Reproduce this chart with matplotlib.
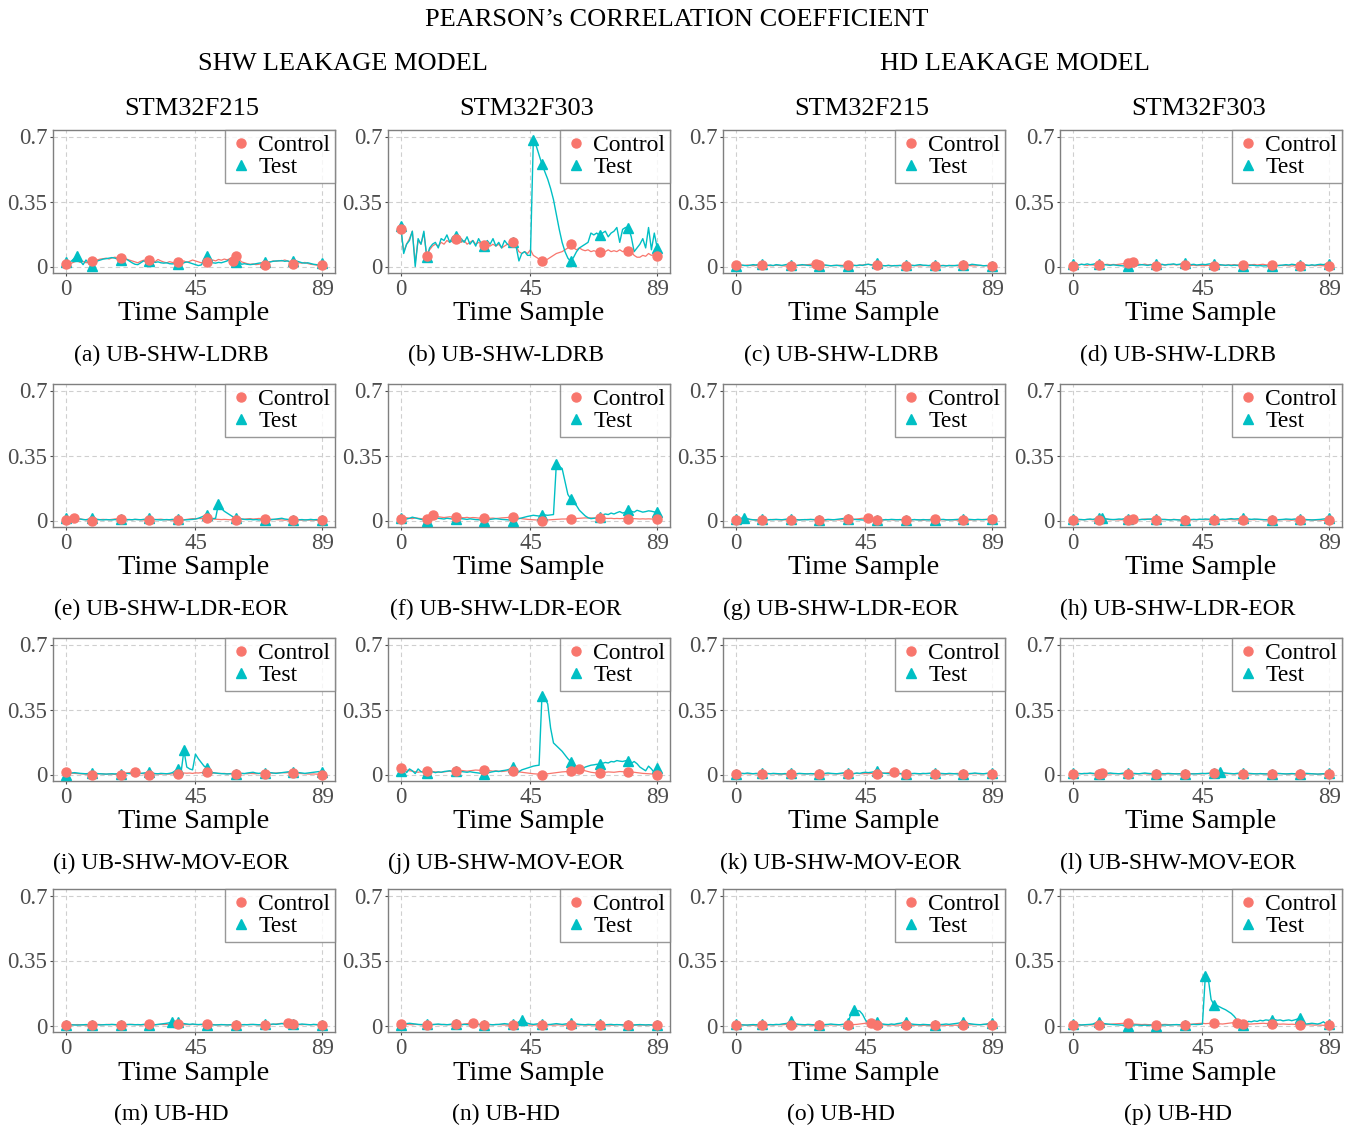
import matplotlib
matplotlib.use("Agg")
import matplotlib.pyplot as plt
import numpy as np

plt.rcParams['font.family'] = ['Liberation Serif', 'DejaVu Serif']

# correlation traces, 90 time samples each
a_ctl = [0.016,0.020,0.018,0.025,0.030,0.022,0.028,0.020,0.024,0.027,
         0.032,0.036,0.040,0.042,0.045,0.040,0.046,0.050,0.047,0.045,
         0.042,0.040,0.035,0.030,0.025,0.020,0.028,0.034,0.030,0.036,
         0.030,0.026,0.038,0.030,0.024,0.020,0.026,0.022,0.018,0.022,
         0.025,0.030,0.022,0.028,0.035,0.030,0.025,0.020,0.026,0.022,
         0.028,0.035,0.030,0.038,0.034,0.040,0.036,0.042,0.027,0.058,
         0.040,0.025,0.020,0.015,0.012,0.014,0.010,0.012,0.015,0.009,
         0.020,0.025,0.030,0.028,0.032,0.030,0.035,0.030,0.020,0.011,
         0.015,0.020,0.018,0.022,0.016,0.012,0.010,0.008,0.006,0.009]
a_tst = [0.024,0.020,0.030,0.045,0.058,0.030,0.010,0.035,0.015,0.004,
         0.020,0.030,0.035,0.040,0.042,0.045,0.048,0.045,0.040,0.036,
         0.038,0.040,0.030,0.020,0.012,0.010,0.020,0.030,0.025,0.030,
         0.028,0.022,0.025,0.020,0.018,0.020,0.015,0.014,0.016,0.013,
         0.015,0.020,0.025,0.020,0.015,0.010,0.005,0.008,0.030,0.058,
         0.030,0.020,0.018,0.022,0.020,0.025,0.030,0.040,0.045,0.024,
         0.030,0.012,0.015,0.012,0.010,0.012,0.015,0.018,0.020,0.024,
         0.022,0.025,0.028,0.030,0.030,0.032,0.028,0.030,0.025,0.027,
         0.030,0.025,0.020,0.018,0.020,0.016,0.012,0.010,0.008,0.018]
b_ctl = [0.200,0.080,0.120,0.150,0.190,0.020,0.140,0.120,0.180,0.058,
         0.090,0.110,0.120,0.110,0.130,0.120,0.140,0.130,0.150,0.150,
         0.140,0.130,0.140,0.120,0.130,0.140,0.120,0.130,0.120,0.114,
         0.120,0.110,0.120,0.110,0.120,0.100,0.110,0.120,0.120,0.130,
         0.110,0.080,0.070,0.080,0.070,0.090,0.060,0.050,0.040,0.027,
         0.030,0.040,0.050,0.060,0.070,0.075,0.080,0.090,0.100,0.120,
         0.100,0.090,0.100,0.090,0.085,0.090,0.080,0.085,0.080,0.080,
         0.085,0.080,0.090,0.080,0.085,0.080,0.090,0.080,0.085,0.085,
         0.080,0.060,0.050,0.050,0.060,0.055,0.070,0.060,0.065,0.055]
b_tst = [0.217,0.070,0.120,0.140,0.190,0.000,0.150,0.120,0.190,0.050,
         0.100,0.120,0.130,0.100,0.150,0.140,0.170,0.130,0.160,0.165,
         0.140,0.150,0.130,0.160,0.120,0.140,0.110,0.150,0.120,0.110,
         0.140,0.120,0.150,0.110,0.130,0.100,0.140,0.120,0.110,0.130,
         0.110,0.030,0.070,0.080,0.060,0.060,0.680,0.650,0.600,0.550,
         0.510,0.470,0.420,0.360,0.280,0.200,0.130,0.080,0.045,0.027,
         0.050,0.080,0.100,0.110,0.120,0.130,0.180,0.170,0.180,0.167,
         0.180,0.190,0.160,0.180,0.190,0.210,0.130,0.200,0.210,0.210,
         0.160,0.080,0.100,0.120,0.150,0.100,0.210,0.090,0.180,0.100]
c_ctl = [0.010,0.008,0.006,0.005,0.008,0.006,0.004,0.006,0.005,0.007,
         0.008,0.006,0.004,0.005,0.007,0.006,0.004,0.003,0.002,0.003,
         0.005,0.006,0.008,0.007,0.009,0.010,0.012,0.013,0.015,0.010,
         0.008,0.006,0.005,0.004,0.006,0.005,0.007,0.006,0.008,0.009,
         0.007,0.006,0.005,0.007,0.008,0.010,0.012,0.010,0.009,0.008,
         0.006,0.005,0.004,0.006,0.005,0.004,0.006,0.005,0.004,0.005,
         0.006,0.007,0.005,0.004,0.003,0.005,0.006,0.004,0.003,0.002,
         0.004,0.005,0.006,0.005,0.004,0.006,0.005,0.004,0.005,0.006,
         0.007,0.005,0.004,0.003,0.005,0.006,0.004,0.005,0.006,0.005]
c_tst = [0.002,0.005,0.008,0.006,0.004,0.007,0.010,0.008,0.012,0.015,
         0.010,0.006,0.008,0.005,0.010,0.008,0.006,0.009,0.012,0.010,
         0.008,0.005,0.007,0.010,0.008,0.006,0.005,0.004,0.006,0.003,
         0.005,0.008,0.006,0.004,0.005,0.007,0.004,0.003,0.002,0.001,
         0.004,0.006,0.005,0.008,0.006,0.010,0.012,0.008,0.010,0.020,
         0.008,0.005,0.004,0.006,0.003,0.005,0.004,0.006,0.005,0.007,
         0.004,0.006,0.005,0.008,0.010,0.007,0.006,0.005,0.008,0.010,
         0.006,0.004,0.005,0.003,0.006,0.004,0.005,0.007,0.005,0.006,
         0.010,0.008,0.012,0.010,0.008,0.006,0.004,0.005,0.003,0.002]
d_ctl = [0.005,0.008,0.010,0.012,0.009,0.006,0.010,0.008,0.007,0.006,
         0.008,0.010,0.012,0.009,0.011,0.010,0.012,0.014,0.016,0.020,
         0.018,0.022,0.015,0.012,0.010,0.013,0.009,0.011,0.008,0.005,
         0.007,0.010,0.008,0.012,0.009,0.011,0.008,0.010,0.009,0.010,
         0.008,0.006,0.007,0.005,0.006,0.004,0.005,0.006,0.004,0.002,
         0.004,0.006,0.008,0.007,0.009,0.008,0.010,0.008,0.009,0.010,
         0.008,0.010,0.009,0.011,0.008,0.010,0.012,0.009,0.008,0.010,
         0.008,0.006,0.007,0.005,0.006,0.004,0.003,0.005,0.004,0.002,
         0.004,0.006,0.005,0.007,0.004,0.006,0.005,0.004,0.003,0.002]
d_tst = [0.015,0.010,0.008,0.012,0.010,0.014,0.010,0.012,0.016,0.015,
         0.012,0.010,0.008,0.006,0.009,0.007,0.005,0.004,0.003,0.002,
         0.004,0.006,0.005,0.008,0.010,0.008,0.006,0.009,0.010,0.012,
         0.010,0.012,0.008,0.010,0.012,0.014,0.010,0.012,0.016,0.020,
         0.014,0.010,0.012,0.008,0.010,0.012,0.010,0.013,0.015,0.016,
         0.012,0.010,0.008,0.006,0.008,0.005,0.007,0.006,0.005,0.004,
         0.006,0.005,0.007,0.006,0.004,0.005,0.003,0.004,0.002,0.003,
         0.005,0.004,0.006,0.008,0.010,0.008,0.012,0.010,0.008,0.010,
         0.012,0.008,0.006,0.009,0.007,0.010,0.012,0.010,0.014,0.015]
e_ctl = [0.005,0.008,0.012,0.015,0.010,0.008,0.006,0.004,0.002,0.000,
         0.002,0.004,0.005,0.006,0.005,0.004,0.006,0.008,0.010,0.010,
         0.008,0.006,0.005,0.004,0.006,0.005,0.004,0.003,0.002,0.001,
         0.003,0.005,0.006,0.007,0.005,0.004,0.003,0.002,0.001,0.001,
         0.002,0.004,0.006,0.008,0.010,0.009,0.011,0.010,0.012,0.012,
         0.010,0.008,0.007,0.006,0.005,0.006,0.005,0.004,0.006,0.005,
         0.006,0.008,0.007,0.009,0.010,0.008,0.009,0.011,0.010,0.010,
         0.008,0.007,0.006,0.005,0.004,0.003,0.002,0.003,0.002,0.001,
         0.002,0.003,0.002,0.004,0.003,0.002,0.003,0.001,0.002,0.001]
e_tst = [0.012,0.008,0.004,0.002,0.006,0.008,0.005,0.004,0.008,0.012,
         0.010,0.006,0.004,0.003,0.005,0.004,0.003,0.005,0.004,0.006,
         0.004,0.003,0.005,0.004,0.006,0.005,0.004,0.006,0.008,0.012,
         0.008,0.005,0.004,0.003,0.004,0.005,0.004,0.006,0.005,0.006,
         0.004,0.003,0.004,0.005,0.006,0.008,0.012,0.018,0.025,0.032,
         0.015,0.010,0.012,0.090,0.065,0.050,0.040,0.030,0.020,0.012,
         0.010,0.008,0.006,0.005,0.006,0.004,0.005,0.003,0.004,0.003,
         0.005,0.004,0.006,0.008,0.010,0.012,0.008,0.006,0.005,0.004,
         0.006,0.004,0.005,0.003,0.004,0.006,0.004,0.005,0.003,0.004]
f_ctl = [0.010,0.012,0.015,0.012,0.010,0.014,0.012,0.010,0.008,0.010,
         0.020,0.032,0.025,0.020,0.018,0.016,0.018,0.020,0.018,0.020,
         0.018,0.016,0.015,0.017,0.014,0.016,0.015,0.013,0.014,0.012,
         0.014,0.012,0.013,0.011,0.012,0.014,0.015,0.016,0.018,0.020,
         0.016,0.012,0.010,0.008,0.006,0.005,0.004,0.003,0.002,0.000,
         0.002,0.003,0.004,0.005,0.006,0.007,0.008,0.008,0.009,0.010,
         0.010,0.011,0.012,0.013,0.014,0.013,0.014,0.013,0.012,0.012,
         0.013,0.012,0.011,0.012,0.010,0.011,0.010,0.011,0.010,0.010,
         0.009,0.010,0.009,0.008,0.009,0.008,0.009,0.008,0.008,0.008]
f_tst = [0.015,0.010,0.008,0.012,0.018,0.014,0.010,0.006,0.004,0.000,
         0.004,0.008,0.010,0.012,0.010,0.008,0.012,0.010,0.008,0.010,
         0.012,0.010,0.008,0.006,0.009,0.007,0.005,0.004,0.003,0.000,
         0.004,0.006,0.008,0.010,0.008,0.006,0.005,0.004,0.002,0.000,
         0.006,0.010,0.014,0.018,0.022,0.025,0.028,0.026,0.024,0.027,
         0.030,0.028,0.030,0.032,0.305,0.290,0.280,0.210,0.140,0.117,
         0.095,0.080,0.055,0.040,0.025,0.015,0.010,0.012,0.015,0.020,
         0.030,0.035,0.032,0.040,0.035,0.042,0.048,0.040,0.045,0.054,
         0.050,0.045,0.055,0.050,0.045,0.048,0.052,0.050,0.046,0.045]
g_ctl = [0.004,0.003,0.005,0.004,0.006,0.005,0.004,0.003,0.002,0.003,
         0.004,0.005,0.004,0.006,0.005,0.004,0.003,0.004,0.002,0.001,
         0.003,0.004,0.003,0.005,0.004,0.006,0.005,0.004,0.002,0.001,
         0.003,0.002,0.004,0.003,0.005,0.004,0.003,0.005,0.006,0.008,
         0.007,0.006,0.008,0.010,0.012,0.010,0.012,0.006,0.004,0.002,
         0.003,0.004,0.003,0.005,0.004,0.003,0.005,0.004,0.006,0.005,
         0.004,0.003,0.005,0.004,0.003,0.002,0.004,0.005,0.006,0.008,
         0.006,0.005,0.004,0.003,0.005,0.004,0.003,0.002,0.003,0.001,
         0.003,0.002,0.004,0.003,0.005,0.004,0.006,0.005,0.004,0.006]
g_tst = [0.008,0.010,0.012,0.016,0.010,0.006,0.004,0.003,0.004,0.006,
         0.004,0.003,0.005,0.004,0.006,0.005,0.004,0.006,0.008,0.006,
         0.004,0.005,0.003,0.004,0.005,0.004,0.006,0.005,0.004,0.003,
         0.005,0.004,0.006,0.005,0.004,0.006,0.008,0.010,0.012,0.010,
         0.008,0.006,0.005,0.004,0.003,0.002,0.003,0.002,0.004,0.003,
         0.004,0.003,0.005,0.004,0.006,0.005,0.004,0.005,0.003,0.004,
         0.003,0.004,0.005,0.004,0.003,0.005,0.004,0.003,0.004,0.002,
         0.004,0.005,0.006,0.004,0.003,0.004,0.005,0.006,0.008,0.010,
         0.008,0.006,0.005,0.004,0.006,0.005,0.004,0.006,0.008,0.010]
h_ctl = [0.004,0.003,0.004,0.005,0.004,0.006,0.005,0.004,0.003,0.002,
         0.004,0.005,0.006,0.004,0.005,0.004,0.003,0.004,0.002,0.002,
         0.006,0.008,0.006,0.005,0.006,0.008,0.007,0.005,0.006,0.005,
         0.004,0.005,0.006,0.005,0.004,0.006,0.005,0.003,0.002,0.001,
         0.003,0.004,0.005,0.004,0.006,0.005,0.004,0.005,0.006,0.005,
         0.004,0.005,0.003,0.004,0.006,0.005,0.004,0.003,0.004,0.002,
         0.003,0.004,0.005,0.004,0.006,0.005,0.004,0.005,0.006,0.005,
         0.004,0.003,0.004,0.005,0.004,0.003,0.002,0.003,0.002,0.001,
         0.002,0.003,0.004,0.003,0.002,0.003,0.002,0.001,0.002,0.001]
h_tst = [0.010,0.008,0.006,0.005,0.004,0.006,0.008,0.006,0.010,0.012,
         0.015,0.010,0.008,0.006,0.005,0.006,0.008,0.007,0.010,0.010,
         0.008,0.006,0.005,0.004,0.006,0.005,0.007,0.008,0.009,0.010,
         0.008,0.006,0.005,0.004,0.003,0.005,0.004,0.003,0.002,0.001,
         0.003,0.005,0.006,0.005,0.007,0.006,0.008,0.007,0.006,0.008,
         0.006,0.005,0.007,0.006,0.008,0.010,0.008,0.009,0.010,0.012,
         0.010,0.008,0.006,0.008,0.007,0.006,0.005,0.004,0.003,0.002,
         0.003,0.004,0.005,0.006,0.008,0.007,0.006,0.008,0.007,0.008,
         0.006,0.005,0.004,0.003,0.004,0.005,0.006,0.008,0.010,0.012]
i_ctl = [0.012,0.010,0.008,0.006,0.005,0.004,0.003,0.002,0.001,0.000,
         0.002,0.003,0.004,0.003,0.002,0.003,0.002,0.001,0.002,0.000,
         0.004,0.008,0.010,0.012,0.015,0.010,0.006,0.004,0.002,0.000,
         0.002,0.004,0.003,0.002,0.004,0.003,0.002,0.004,0.005,0.005,
         0.006,0.008,0.007,0.008,0.006,0.009,0.008,0.010,0.011,0.012,
         0.010,0.008,0.007,0.006,0.005,0.006,0.004,0.005,0.006,0.005,
         0.004,0.006,0.005,0.004,0.006,0.005,0.004,0.005,0.006,0.005,
         0.006,0.008,0.007,0.008,0.009,0.010,0.009,0.010,0.011,0.010,
         0.008,0.006,0.005,0.004,0.003,0.002,0.003,0.002,0.001,0.000]
i_tst = [0.000,0.005,0.008,0.010,0.008,0.006,0.005,0.004,0.006,0.010,
         0.008,0.005,0.004,0.003,0.002,0.003,0.004,0.003,0.004,0.005,
         0.004,0.006,0.005,0.004,0.006,0.005,0.006,0.008,0.010,0.012,
         0.008,0.005,0.004,0.006,0.005,0.004,0.006,0.010,0.020,0.028,
         0.010,0.130,0.040,0.030,0.025,0.110,0.085,0.065,0.045,0.037,
         0.015,0.010,0.008,0.006,0.005,0.004,0.003,0.004,0.003,0.005,
         0.004,0.006,0.005,0.008,0.010,0.012,0.008,0.006,0.008,0.010,
         0.012,0.010,0.008,0.006,0.008,0.010,0.012,0.014,0.015,0.015,
         0.012,0.010,0.008,0.006,0.008,0.010,0.012,0.014,0.016,0.015]
j_ctl = [0.035,0.030,0.025,0.020,0.018,0.015,0.012,0.015,0.016,0.018,
         0.016,0.015,0.014,0.013,0.012,0.014,0.016,0.018,0.017,0.018,
         0.020,0.022,0.020,0.018,0.020,0.022,0.024,0.023,0.022,0.025,
         0.022,0.020,0.018,0.020,0.018,0.016,0.018,0.020,0.019,0.018,
         0.016,0.014,0.012,0.010,0.008,0.006,0.004,0.003,0.002,0.000,
         0.002,0.004,0.006,0.008,0.010,0.012,0.014,0.015,0.016,0.018,
         0.022,0.026,0.030,0.025,0.020,0.016,0.012,0.010,0.008,0.008,
         0.010,0.012,0.014,0.013,0.012,0.014,0.016,0.015,0.014,0.015,
         0.014,0.012,0.010,0.008,0.006,0.005,0.004,0.003,0.002,0.000]
j_tst = [0.020,0.035,0.010,0.030,0.020,0.005,0.030,0.015,0.012,0.008,
         0.012,0.015,0.010,0.014,0.012,0.016,0.018,0.020,0.016,0.020,
         0.018,0.016,0.014,0.012,0.015,0.012,0.010,0.008,0.006,0.005,
         0.008,0.012,0.015,0.018,0.016,0.020,0.022,0.025,0.030,0.038,
         0.022,0.015,0.025,0.030,0.035,0.040,0.045,0.048,0.050,0.425,
         0.410,0.380,0.250,0.170,0.155,0.140,0.125,0.105,0.085,0.070,
         0.050,0.030,0.025,0.030,0.040,0.045,0.050,0.052,0.055,0.055,
         0.060,0.065,0.062,0.070,0.068,0.075,0.072,0.070,0.074,0.075,
         0.060,0.070,0.058,0.040,0.030,0.020,0.045,0.030,0.010,0.035]
k_ctl = [0.004,0.005,0.006,0.005,0.004,0.003,0.005,0.004,0.003,0.005,
         0.004,0.006,0.005,0.004,0.003,0.002,0.003,0.002,0.003,0.002,
         0.003,0.004,0.005,0.004,0.003,0.005,0.004,0.003,0.002,0.002,
         0.003,0.004,0.003,0.005,0.004,0.003,0.004,0.005,0.004,0.003,
         0.004,0.005,0.006,0.005,0.004,0.005,0.004,0.006,0.005,0.004,
         0.005,0.006,0.008,0.010,0.012,0.012,0.008,0.006,0.005,0.004,
         0.003,0.004,0.005,0.004,0.003,0.004,0.005,0.006,0.005,0.004,
         0.003,0.004,0.003,0.002,0.003,0.004,0.005,0.006,0.005,0.005,
         0.004,0.003,0.004,0.005,0.004,0.003,0.004,0.005,0.006,0.005]
k_tst = [0.002,0.004,0.006,0.005,0.008,0.006,0.004,0.006,0.005,0.008,
         0.006,0.005,0.004,0.006,0.005,0.004,0.003,0.005,0.004,0.006,
         0.005,0.004,0.006,0.005,0.004,0.003,0.005,0.004,0.006,0.005,
         0.004,0.006,0.008,0.006,0.005,0.004,0.006,0.008,0.010,0.008,
         0.006,0.005,0.008,0.006,0.010,0.012,0.010,0.012,0.015,0.020,
         0.012,0.008,0.006,0.005,0.004,0.003,0.005,0.004,0.003,0.004,
         0.003,0.005,0.006,0.005,0.004,0.006,0.005,0.006,0.008,0.010,
         0.008,0.006,0.005,0.004,0.006,0.005,0.004,0.003,0.004,0.002,
         0.004,0.005,0.006,0.008,0.006,0.005,0.004,0.006,0.008,0.008]
l_ctl = [0.005,0.004,0.006,0.005,0.004,0.006,0.005,0.004,0.006,0.005,
         0.008,0.006,0.004,0.003,0.004,0.005,0.004,0.003,0.002,0.004,
         0.005,0.004,0.003,0.004,0.005,0.004,0.003,0.002,0.003,0.004,
         0.003,0.002,0.003,0.004,0.003,0.004,0.005,0.004,0.003,0.002,
         0.003,0.004,0.005,0.004,0.003,0.004,0.005,0.006,0.008,0.010,
         0.008,0.006,0.005,0.004,0.005,0.004,0.003,0.004,0.003,0.004,
         0.005,0.004,0.003,0.004,0.005,0.004,0.003,0.004,0.005,0.004,
         0.003,0.004,0.005,0.004,0.003,0.002,0.003,0.004,0.003,0.004,
         0.003,0.002,0.003,0.004,0.003,0.002,0.003,0.002,0.003,0.004]
l_tst = [0.008,0.006,0.005,0.004,0.006,0.005,0.008,0.006,0.004,0.003,
         0.005,0.004,0.006,0.008,0.006,0.005,0.004,0.006,0.008,0.010,
         0.008,0.006,0.005,0.004,0.006,0.008,0.006,0.005,0.004,0.003,
         0.004,0.005,0.004,0.006,0.005,0.004,0.003,0.004,0.005,0.004,
         0.005,0.004,0.003,0.004,0.005,0.006,0.005,0.006,0.008,0.010,
         0.012,0.015,0.010,0.008,0.006,0.005,0.004,0.006,0.008,0.010,
         0.008,0.006,0.005,0.004,0.003,0.005,0.004,0.003,0.004,0.005,
         0.004,0.006,0.005,0.004,0.003,0.004,0.005,0.004,0.003,0.004,
         0.005,0.006,0.005,0.004,0.003,0.002,0.003,0.004,0.005,0.006]
m_ctl = [0.005,0.004,0.003,0.004,0.005,0.004,0.003,0.002,0.003,0.004,
         0.005,0.006,0.005,0.004,0.005,0.006,0.005,0.004,0.003,0.004,
         0.005,0.004,0.005,0.006,0.005,0.004,0.003,0.004,0.005,0.006,
         0.005,0.004,0.005,0.006,0.005,0.006,0.005,0.004,0.005,0.006,
         0.005,0.004,0.005,0.004,0.006,0.005,0.004,0.005,0.006,0.008,
         0.006,0.005,0.004,0.003,0.004,0.005,0.004,0.003,0.004,0.005,
         0.006,0.005,0.004,0.005,0.006,0.005,0.004,0.003,0.004,0.005,
         0.006,0.005,0.006,0.008,0.010,0.012,0.010,0.012,0.010,0.008,
         0.006,0.005,0.004,0.006,0.005,0.004,0.005,0.004,0.003,0.005]
m_tst = [0.002,0.003,0.004,0.003,0.002,0.003,0.004,0.005,0.004,0.003,
         0.005,0.004,0.003,0.004,0.005,0.004,0.006,0.005,0.004,0.003,
         0.004,0.005,0.006,0.005,0.004,0.005,0.004,0.006,0.005,0.004,
         0.005,0.004,0.006,0.008,0.010,0.012,0.015,0.020,0.012,0.020,
         0.015,0.010,0.008,0.006,0.008,0.006,0.005,0.006,0.005,0.004,
         0.005,0.004,0.003,0.004,0.005,0.004,0.003,0.004,0.005,0.004,
         0.003,0.004,0.005,0.004,0.005,0.006,0.005,0.004,0.005,0.006,
         0.005,0.006,0.008,0.006,0.008,0.010,0.008,0.010,0.008,0.006,
         0.005,0.006,0.008,0.006,0.005,0.004,0.006,0.005,0.004,0.003]
n_ctl = [0.010,0.008,0.006,0.005,0.004,0.006,0.005,0.004,0.003,0.002,
         0.004,0.005,0.006,0.005,0.004,0.006,0.005,0.004,0.006,0.006,
         0.005,0.006,0.008,0.010,0.012,0.014,0.010,0.008,0.006,0.005,
         0.006,0.005,0.004,0.006,0.005,0.004,0.003,0.002,0.003,0.004,
         0.004,0.003,0.002,0.003,0.002,0.003,0.002,0.003,0.002,0.002,
         0.003,0.004,0.003,0.002,0.003,0.004,0.003,0.002,0.003,0.004,
         0.003,0.004,0.003,0.004,0.003,0.002,0.003,0.004,0.003,0.004,
         0.003,0.004,0.003,0.002,0.003,0.004,0.005,0.004,0.003,0.004,
         0.003,0.002,0.003,0.002,0.003,0.002,0.003,0.002,0.003,0.002]
n_tst = [0.005,0.008,0.010,0.012,0.010,0.008,0.006,0.005,0.006,0.008,
         0.006,0.005,0.006,0.008,0.006,0.005,0.004,0.006,0.008,0.006,
         0.005,0.004,0.006,0.005,0.004,0.005,0.006,0.005,0.004,0.005,
         0.006,0.005,0.004,0.005,0.006,0.008,0.010,0.008,0.006,0.010,
         0.012,0.020,0.030,0.020,0.012,0.008,0.006,0.008,0.010,0.008,
         0.006,0.005,0.006,0.008,0.010,0.008,0.006,0.008,0.010,0.012,
         0.010,0.008,0.006,0.005,0.004,0.006,0.005,0.004,0.005,0.006,
         0.005,0.004,0.005,0.006,0.004,0.005,0.004,0.003,0.004,0.005,
         0.004,0.003,0.004,0.005,0.004,0.003,0.004,0.003,0.002,0.003]
o_ctl = [0.001,0.002,0.003,0.002,0.003,0.002,0.001,0.002,0.001,0.001,
         0.002,0.003,0.004,0.003,0.004,0.005,0.004,0.005,0.006,0.005,
         0.004,0.003,0.004,0.003,0.002,0.003,0.002,0.001,0.002,0.001,
         0.002,0.003,0.004,0.003,0.004,0.003,0.004,0.005,0.004,0.005,
         0.006,0.005,0.006,0.008,0.010,0.012,0.013,0.013,0.006,0.002,
         0.003,0.004,0.003,0.002,0.003,0.002,0.003,0.002,0.001,0.001,
         0.002,0.001,0.002,0.003,0.002,0.001,0.002,0.001,0.002,0.001,
         0.002,0.003,0.002,0.001,0.002,0.001,0.002,0.001,0.002,0.001,
         0.002,0.003,0.004,0.005,0.004,0.005,0.006,0.005,0.006,0.005]
o_tst = [0.010,0.006,0.004,0.003,0.002,0.004,0.005,0.004,0.006,0.008,
         0.006,0.004,0.005,0.004,0.006,0.005,0.008,0.010,0.012,0.025,
         0.012,0.008,0.006,0.005,0.004,0.006,0.005,0.004,0.003,0.002,
         0.004,0.005,0.006,0.008,0.006,0.005,0.004,0.006,0.008,0.015,
         0.065,0.085,0.080,0.078,0.060,0.030,0.010,0.005,0.010,0.018,
         0.010,0.008,0.006,0.005,0.008,0.006,0.010,0.012,0.015,0.020,
         0.012,0.008,0.006,0.005,0.004,0.006,0.005,0.004,0.003,0.002,
         0.004,0.005,0.006,0.008,0.006,0.008,0.010,0.012,0.015,0.018,
         0.012,0.010,0.008,0.006,0.005,0.004,0.006,0.008,0.012,0.015]
p_ctl = [0.001,0.002,0.003,0.002,0.003,0.004,0.003,0.004,0.005,0.005,
         0.006,0.005,0.006,0.007,0.008,0.009,0.010,0.011,0.012,0.012,
         0.010,0.008,0.007,0.006,0.005,0.006,0.005,0.004,0.005,0.005,
         0.004,0.005,0.006,0.005,0.004,0.005,0.004,0.003,0.004,0.005,
         0.006,0.007,0.008,0.010,0.011,0.012,0.010,0.011,0.012,0.012,
         0.010,0.009,0.008,0.010,0.012,0.014,0.015,0.016,0.012,0.008,
         0.006,0.007,0.008,0.009,0.010,0.011,0.012,0.011,0.010,0.010,
         0.009,0.008,0.007,0.008,0.007,0.006,0.007,0.006,0.005,0.005,
         0.004,0.003,0.004,0.003,0.002,0.003,0.002,0.001,0.002,0.001]
p_tst = [0.010,0.006,0.004,0.003,0.004,0.005,0.006,0.008,0.015,0.020,
         0.012,0.010,0.008,0.006,0.005,0.004,0.003,0.002,0.001,0.000,
         0.001,0.002,0.003,0.002,0.001,0.002,0.001,0.002,0.001,0.000,
         0.001,0.002,0.003,0.002,0.003,0.004,0.005,0.004,0.005,0.005,
         0.006,0.005,0.006,0.005,0.006,0.008,0.265,0.255,0.140,0.112,
         0.108,0.100,0.092,0.085,0.075,0.065,0.050,0.030,0.012,0.002,
         0.015,0.022,0.020,0.025,0.022,0.028,0.025,0.030,0.028,0.030,
         0.032,0.028,0.030,0.025,0.028,0.030,0.026,0.030,0.035,0.042,
         0.012,0.008,0.010,0.012,0.010,0.008,0.012,0.020,0.008,0.010]

# sample indices that carry a marker, plus extra ones per panel
mark_idx = [0, 9, 19, 29, 39, 49, 59, 69, 79, 89]
ctl_extra = [[58], [], [28], [21], [3], [11], [46], [21],
             [24], [62], [55], [10], [77], [25], [47], [57]]
tst_extra = [[4], [46], [], [], [53], [54], [3], [10],
             [41], [], [], [51], [37], [42], [41], [46]]

captions = ['(a) UB-SHW-LDRB', '(b) UB-SHW-LDRB', '(c) UB-SHW-LDRB', '(d) UB-SHW-LDRB',
            '(e) UB-SHW-LDR-EOR', '(f) UB-SHW-LDR-EOR', '(g) UB-SHW-LDR-EOR', '(h) UB-SHW-LDR-EOR',
            '(i) UB-SHW-MOV-EOR', '(j) UB-SHW-MOV-EOR', '(k) UB-SHW-MOV-EOR', '(l) UB-SHW-MOV-EOR',
            '(m) UB-HD', '(n) UB-HD', '(o) UB-HD', '(p) UB-HD']
controls = [a_ctl, b_ctl, c_ctl, d_ctl, e_ctl, f_ctl, g_ctl, h_ctl,
            i_ctl, j_ctl, k_ctl, l_ctl, m_ctl, n_ctl, o_ctl, p_ctl]
tests = [a_tst, b_tst, c_tst, d_tst, e_tst, f_tst, g_tst, h_tst,
         i_tst, j_tst, k_tst, l_tst, m_tst, n_tst, o_tst, p_tst]
devices = ['STM32F215', 'STM32F303', 'STM32F215', 'STM32F303']
models = ['SHW LEAKAGE MODEL', 'HD LEAKAGE MODEL']

RED = '#F8766D'
TEAL = '#00BFC4'
W, H = 1354, 1126

fig = plt.figure(figsize=(W / 100, H / 100), dpi=100)

lefts = [53, 388, 723, 1060]
tops = [130, 384, 638, 889]
aw, ah = 282, 143


def fx(x):
    return x / W


def fy(y):
    return 1 - y / H


fig.text(fx(677), fy(20), 'PEARSON\u2019s CORRELATION COEFFICIENT',
         ha='center', va='center', fontsize=19)
fig.text(fx(343), fy(64), models[0], ha='center', va='center', fontsize=19)
fig.text(fx(1015), fy(64), models[1], ha='center', va='center', fontsize=19)
for c, dev in enumerate(devices):
    fig.text(fx(lefts[c] + aw / 2 - 2), fy(109), dev, ha='center', va='center', fontsize=19)

x = np.arange(90)
for k in range(16):
    r, c = divmod(k, 4)
    ax = fig.add_axes([fx(lefts[c]), fy(tops[r] + ah), aw / W, ah / H])
    ctl = np.array(controls[k])
    tst = np.array(tests[k])
    cm = sorted(set(mark_idx + ctl_extra[k]))
    tm = sorted(set(mark_idx + tst_extra[k]))

    ax.plot(x, ctl, color=RED, lw=0.9, zorder=3)
    ax.plot(x, tst, color=TEAL, lw=1.0, zorder=4)
    ax.plot(x[tm], tst[tm], ls='none', marker='^', ms=7.5, color=TEAL, zorder=5)
    ax.plot(x[cm], ctl[cm], ls='none', marker='o', ms=6.5, color=RED, zorder=6)

    ax.set_xlim(-4.45, 93.45)
    ax.set_ylim(-0.035, 0.735)
    ax.set_xticks([0, 45, 89])
    ax.set_yticks([0, 0.35, 0.7])
    ax.set_yticklabels(['0', '0.35', '0.7'])
    ax.grid(True, color='#CFCFCF', ls=(0, (4, 3)), lw=0.8)
    ax.set_axisbelow(True)
    for s in ax.spines.values():
        s.set_color('#7F7F7F')
        s.set_linewidth(1.0)
    ax.tick_params(colors='#4D4D4D', labelsize=16.5, length=2.5, width=0.8,
                   pad=1.5, labelcolor='#4D4D4D')

    h1 = plt.Line2D([], [], ls='none', marker='o', ms=6.5, color=RED)
    h2 = plt.Line2D([], [], ls='none', marker='^', ms=7.5, color=TEAL)
    leg = ax.legend([h1, h2], ['Control', 'Test'], loc='upper right',
                    bbox_to_anchor=(1, 1), borderaxespad=0, fontsize=17,
                    frameon=True, fancybox=False, labelspacing=0.0,
                    borderpad=0.2, handletextpad=0.3, handlelength=0.9)
    leg.get_frame().set_edgecolor('#7F7F7F')
    leg.get_frame().set_linewidth(1.0)

    fig.text(fx(lefts[c] + aw / 2), fy(tops[r] + ah + 41), 'Time Sample', ha='center',
             va='center', fontsize=20.5)
    fig.text(fx(lefts[c] + 118), fy(tops[r] + ah + 82), captions[k], ha='center',
             va='center', fontsize=17)

fig.savefig('out.png', dpi=100)
